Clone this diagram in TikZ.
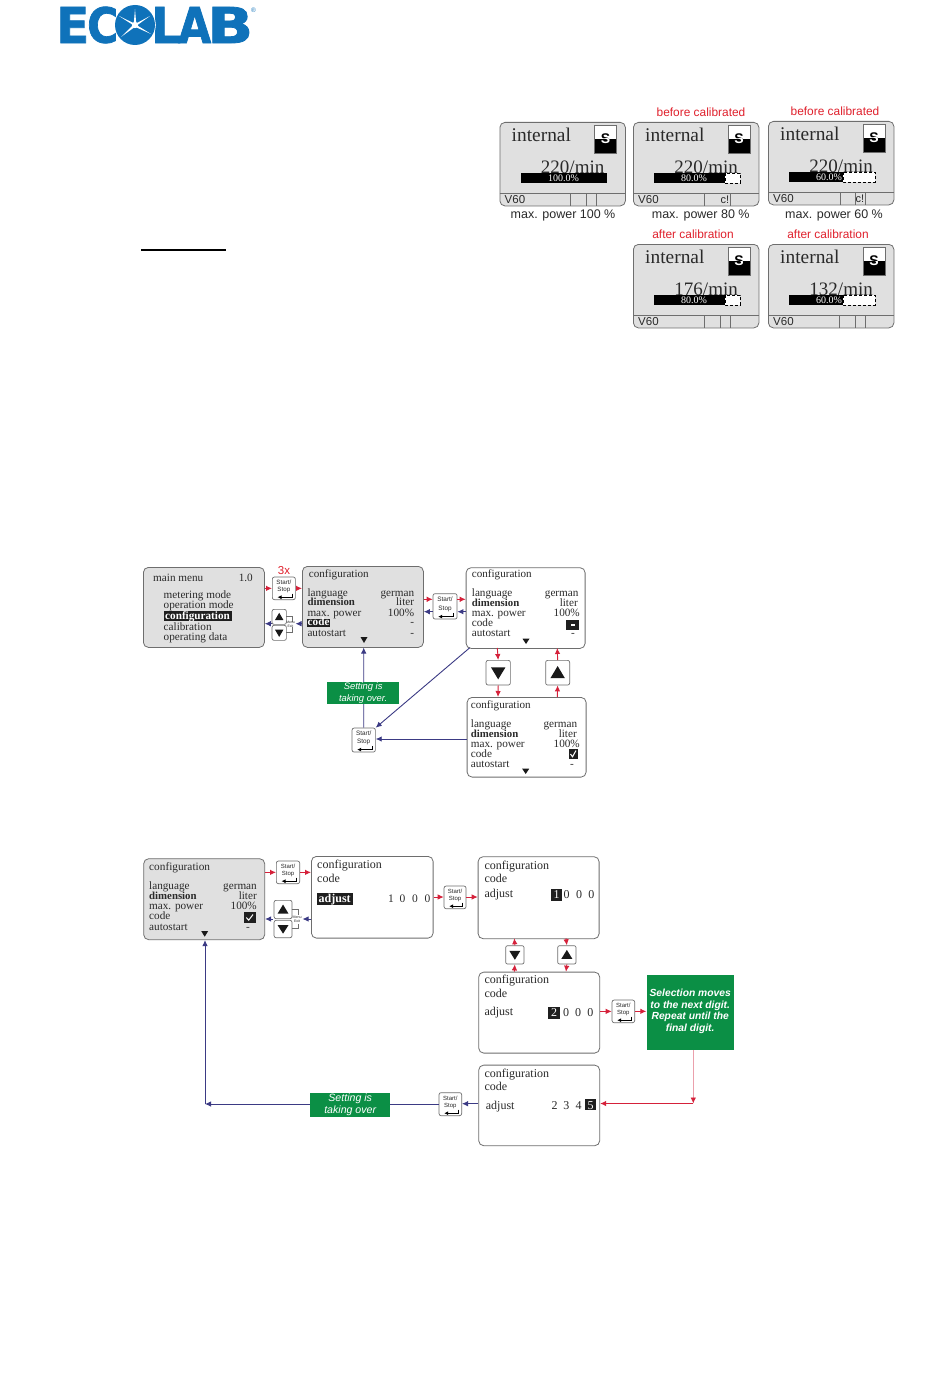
\documentclass[tikz,border=0pt]{standalone}
\usepackage{fontspec}
\setmainfont{Liberation Serif}
\setsansfont{Liberation Sans}
\newfontface\logofont[FakeBold=1.6]{DejaVu Sans Bold}
\usetikzlibrary{arrows.meta,calc}
\definecolor{scrgray}{HTML}{E0E0E0}
\definecolor{bordergray}{HTML}{6E6E6E}
\definecolor{logoblue}{HTML}{0F72BA}
\definecolor{okgreen}{HTML}{0B8F45}
\definecolor{redarrow}{HTML}{D5213A}
\definecolor{pinkline}{HTML}{EBA0AC}
\definecolor{bluearrow}{HTML}{3B3A84}
\definecolor{redlbl}{HTML}{E0202C}
\definecolor{txt}{HTML}{2A2A2A}
\tikzset{
 x=1pt,y=-1pt,
 scrbox/.style={draw=bordergray,line width=.8pt,rounded corners=5pt,inner sep=0pt,anchor=north west},
 keybox/.style={draw=bordergray,fill=white,line width=.7pt,rounded corners=2pt,inner sep=0pt,anchor=north west},
 greenbox/.style={fill=okgreen,inner sep=0pt,anchor=north west,text=white,align=center,font=\sffamily\itshape},
 redconn/.style={draw=redarrow,line width=.9pt,-{Latex[length=6pt,width=5.5pt]}},
 blueconn/.style={draw=bluearrow,line width=.9pt,-{Latex[length=6pt,width=5.5pt]}},
 scrtxt/.style={inner sep=0pt,anchor=base west,text=txt,font=\fontsize{11.2}{12}\selectfont},
 scrright/.style={inner sep=0pt,anchor=base east,text=txt,font=\fontsize{11.2}{12}\selectfont},
 scrttl/.style={inner sep=0pt,anchor=base west,text=txt,font=\fontsize{11.1}{12}\selectfont},
 bigttl/.style={scrttl,font=\fontsize{12}{13}\selectfont},
 redlabel/.style={inner sep=0pt,text=redlbl,font=\sffamily\fontsize{11.9}{12}\selectfont},
 caplabel/.style={inner sep=0pt,text=txt,font=\sffamily\fontsize{12.5}{13}\selectfont},
 navtri/.style={fill=black!90},
 logoltr/.style={inner sep=0pt,anchor=west,text=logoblue},
}
% screen box:  name, x1, y1, x2, y2, fill
\newcommand{\scr}[6]{\node[scrbox,fill=#6,minimum width=#4pt-#2pt,minimum height=#5pt-#3pt] (#1) at (#2,#3) {};}
% key box: name,x1,y1,x2,y2
\newcommand{\keyb}[5]{\node[keybox,minimum width=#4pt-#2pt,minimum height=#5pt-#3pt] (#1) at (#2,#3) {};}
% start/stop key: name,x1,y1,x2,y2,fontsize
\newcommand{\startkey}[6]{%
 \node[keybox,minimum width=#4pt-#2pt,minimum height=#5pt-#3pt] (#1) at (#2,#3) {};
 \node[inner sep=0pt,text=txt,font=\sffamily\fontsize{#6}{8}\selectfont,anchor=base] at ($(#1.north)+(0,.34*#5-.34*#3)$) {Start/};
 \node[inner sep=0pt,text=txt,font=\sffamily\fontsize{#6}{8}\selectfont,anchor=base] at ($(#1.north)+(0,.67*#5-.67*#3)$) {Stop};
 \draw[line width=.9pt,black,-{Latex[length=4pt,width=4pt]}] ($(#1.south east)+(-3.5,-6.5)$) |- ($(#1.south west)+(5.5,-2.8)$);
}
% triangle keys
\newcommand{\upkey}[5]{\keyb{#1}{#2}{#3}{#4}{#5}\fill[navtri] ($(#1.center)+(0,-.27*#5+.27*#3)$) -- ($(#1.center)+(-.3*#4+.3*#2,.22*#5-.22*#3)$) -- ($(#1.center)+(.3*#4-.3*#2,.22*#5-.22*#3)$) -- cycle;}
\newcommand{\dnkey}[5]{\keyb{#1}{#2}{#3}{#4}{#5}\fill[navtri] ($(#1.center)+(0,.27*#5-.27*#3)$) -- ($(#1.center)+(-.3*#4+.3*#2,-.22*#5+.22*#3)$) -- ($(#1.center)+(.3*#4-.3*#2,-.22*#5+.22*#3)$) -- cycle;}
% down triangle cursor: x, ytop, ybottom
\newcommand{\cursor}[3]{\fill[navtri] (#1-3.5,#2) -- (#1+3.5,#2) -- (#1,#3) -- cycle;}
% display screen: name,x,y, value, pct, bar end, status lines, extra, pct centre
\newcommand{\disp}[9]{%
 \scr{#1}{#2}{#3}{#2+125.5}{#3+83.5}{scrgray}
 \node[inner sep=0pt,anchor=base west,text=txt,font=\fontsize{19.4}{20}\selectfont] at (#2+12,#3+19.5) {internal};
 \fill[white] (#2+95,#3+3) rectangle (#2+117,#3+17);
 \fill[black] (#2+95,#3+17) rectangle (#2+117,#3+31);
 \draw[bordergray,line width=.4pt] (#2+95,#3+3) rectangle (#2+117,#3+31);
 \node[inner sep=0pt,text=black,font=\sffamily\bfseries\fontsize{14}{14}\selectfont] at (#2+106,#3+17) {S};
 \begin{scope}
 \clip (#2+95,#3+17) rectangle (#2+117,#3+31);
 \node[inner sep=0pt,text=white,font=\sffamily\bfseries\fontsize{14}{14}\selectfont] at (#2+106,#3+17) {S};
 \end{scope}
 \node[inner sep=0pt,anchor=base east,text=txt,font=\fontsize{19}{20}\selectfont] at (#2+105,#3+51) {#4};
 \fill[white] (#2+#6,#3+51) rectangle (#2+107,#3+61);
 \draw[black,densely dashed,line width=.4pt] (#2+#6,#3+51) rectangle (#2+107,#3+61);
 \fill[black] (#2+21,#3+51) rectangle (#2+#6,#3+61);
 \node[inner sep=0pt,text=white,font=\fontsize{10}{10}\selectfont] at (#2+#9,#3+56) {#5};
 \draw[bordergray,line width=.5pt] (#2,#3+71) -- (#2+125.5,#3+71);
 \foreach \v in {#7} {\draw[bordergray,line width=.5pt] (#2+\v,#3+71) -- (#2+\v,#3+83.5);}
 \node[inner sep=0pt,anchor=base west,text=txt,font=\sffamily\fontsize{11.5}{12}\selectfont] at (#2+5,#3+81.5) {V60};
 #8
}
\begin{document}
\begin{tikzpicture}
\useasboundingbox (0,0) rectangle (950,1378);
\fill[white] (0,0) rectangle (950,1378);

%% ------- logo -------
\node[logoltr] (logoE) at (56,25) {\resizebox{33pt}{36pt}{\logofont E}};
\node[logoltr] (logoC) at (87,25) {\resizebox{31pt}{36pt}{\logofont C}};
\node[logoltr] (logoL) at (151,25) {\resizebox{30pt}{36pt}{\logofont L}};
\node[logoltr] (logoA) at (178,25) {\resizebox{33pt}{36pt}{\logofont A}};
\node[logoltr] (logoB) at (207,25) {\resizebox{46pt}{36pt}{\logofont B}};
\fill[white] (135,25) circle (20.8);
\fill[logoblue] (135,25) circle (20);
\begin{scope}[shift={(135,25)}]
 \fill[white] (0,-16) -- (1.2,-1.6) -- (15,-9) -- (2,.3) -- (16,9) -- (0,1.8) -- (-14,12) -- (-2,0) -- (-16,-9) -- (-1.2,-1.8) -- cycle;
 \fill[white] (0,0) circle (3.2);
\end{scope}
\node[inner sep=0pt,text=logoblue,font=\sffamily\fontsize{6.5}{7}\selectfont] (logoR) at (253.5,10) {®};

%% ------- underline -------
\fill[black] (141,248.7) rectangle (226,250.7);

%% ------- top displays -------
\disp{sA}{499.5}{122}{220/min}{100.0\%}{107}{71,87,97}{}{64}
\disp{sB}{633}{122}{220/min}{80.0\%}{92}{71,97}{%
 \node[inner sep=0pt,anchor=base,text=txt,font=\sffamily\fontsize{11}{12}\selectfont] at (633+92,122+81.5) {c!};}{61}
\disp{sC}{768}{121}{220/min}{60.0\%}{75}{72,87,97}{%
 \node[inner sep=0pt,anchor=base,text=txt,font=\sffamily\fontsize{11}{12}\selectfont] at (768+92,121+81.5) {c!};}{61}
\disp{sD}{633}{244}{176/min}{80.0\%}{92}{71,87,97}{}{61}
\disp{sE}{768}{244}{132/min}{60.0\%}{75}{71,87,97}{}{61}

\node[caplabel] (capA) at (563,215) {max. power 100 \%};
\node[caplabel] (capB) at (700.7,215) {max. power 80 \%};
\node[caplabel] (capC) at (834,215) {max. power 60 \%};
\node[redlabel] (befB) at (701,112) {before calibrated};
\node[redlabel] (befC) at (835,111) {before calibrated};
\node[redlabel] (aftD) at (693,234.5) {after calibration};
\node[redlabel] (aftE) at (828,234) {after calibration};

%% ------- second group -------
\scr{mainm}{143}{567}{264}{647}{scrgray}
\node[scrttl,font=\fontsize{11.2}{12}\selectfont] at (153,581) {main menu};
\node[scrright] at (253,581) {1.0};
\node[scrtxt] at (163.5,598) {metering mode};
\node[scrtxt] at (163.5,608.5) {operation mode};
\fill[black!88] (163.7,610.7) rectangle (232,621.3);
\node[scrtxt,text=white,font=\bfseries\fontsize{11.2}{12}\selectfont] at (165,619) {configuration};
\node[scrtxt] at (163.5,630) {calibration};
\node[scrtxt] at (163.5,640.5) {operating data};

\scr{cfgA}{302}{566}{423}{647}{scrgray}
\node[scrttl] at (308.7,577) {configuration};
\node[scrtxt] at (307.3,596) {language};
\node[scrtxt,font=\bfseries\fontsize{10.8}{12}\selectfont] at (307.3,605.7) {dimension};
\node[scrtxt] at (307.3,616) {max. power};
\fill[black!88] (307,618.7) rectangle (330,627.3);
\node[scrtxt,text=white,font=\bfseries\fontsize{11.2}{12}\selectfont] at (307.5,625.7) {code};
\node[scrtxt] at (307.3,636) {autostart};
\node[scrright] at (414.3,596) {german};
\node[scrright] at (414.3,605.7) {liter};
\node[scrright] at (414.3,616) {100\%};
\node[scrright] at (414.3,625.7) {-};
\node[scrright] at (414.3,636) {-};
\cursor{364}{637}{643}

\startkey{kA}{272}{576.7}{295}{599.3}{6.2}
\node[inner sep=0pt,text=redlbl,font=\sffamily\fontsize{11.5}{12}\selectfont] (threex) at (284,571) {3x};
\draw[redconn] (mainm.east |- kA.west) -- (kA.west);
\draw[redconn] (kA.east) -- (cfgA.west |- kA.east);

\upkey{uA}{271.7}{609}{286}{624}
\dnkey{dA}{271.7}{625}{286}{640}
\draw[bordergray,line width=.3pt] (286,616) -| (292.5,622) (292,627) -- (292,632) -- (286,632);
\node[inner sep=0pt,text=txt,font=\sffamily\fontsize{3.4}{3.8}\selectfont,align=center] (mxA) at (290.5,624.5) {Menu\\Exit};
\coordinate (blueA) at (cfgA.west |- 0,623.7);
\coordinate (blueB) at (mainm.east |- 0,623.7);
\draw[blueconn] (blueA) -- (295.5,623.7);
\draw[blueconn] (271.5,623.7) -- (blueB);

\scr{cfgB}{465.7}{567.3}{584.7}{648}{white}
\node[scrttl] at (471.7,577.3) {configuration};
\node[scrtxt] at (471.7,596.7) {language};
\node[scrtxt,font=\bfseries\fontsize{10.8}{12}\selectfont] at (471.7,606.7) {dimension};
\node[scrtxt] at (471.7,616.7) {max. power};
\node[scrtxt] at (471.7,626.7) {code};
\node[scrtxt] at (471.7,636.7) {autostart};
\node[scrright] at (578.7,596.7) {german};
\node[scrright] at (578,606.7) {liter};
\node[scrright] at (580,616.7) {100\%};
\fill[black!88] (565.7,620) rectangle (579.3,630);
\fill[white] (570.5,624.3) rectangle (574.5,625.7);
\node[scrright] at (575,636.7) {-};
\cursor{526}{638.7}{644}

\startkey{kB}{432.7}{593.3}{456.7}{618.7}{6.4}
\coordinate (rA) at (cfgA.east |- 0,599.3);
\coordinate (rB) at (cfgB.west |- 0,599.3);
\coordinate (rC) at (cfgB.west |- 0,611.7);
\coordinate (rD) at (cfgA.east |- 0,611.7);
\coordinate (kBa) at (kB.west |- 0,599.3);
\coordinate (kBb) at (kB.east |- 0,599.3);
\coordinate (kBc) at (kB.east |- 0,611.7);
\coordinate (kBd) at (kB.west |- 0,611.7);
\draw[redconn] (rA) -- (kBa);
\draw[redconn] (kBb) -- (rB);
\draw[blueconn] (rC) -- (kBc);
\draw[blueconn] (kBd) -- (rD);

\scr{cfgC}{466.7}{697}{585.7}{776.7}{white}
\node[scrttl] at (470.7,708.3) {configuration};
\node[scrtxt] at (470.7,727.3) {language};
\node[scrtxt,font=\bfseries\fontsize{10.8}{12}\selectfont] at (470.7,737.3) {dimension};
\node[scrtxt] at (470.7,747.3) {max. power};
\node[scrtxt] at (470.7,757.3) {code};
\node[scrtxt] at (470.7,767.3) {autostart};
\node[scrright] at (577.3,727.3) {german};
\node[scrright] at (577,737.3) {liter};
\node[scrright] at (580,747.3) {100\%};
\fill[black!88] (568.7,748.7) rectangle (577.7,759.3);
\draw[white,line width=1pt] (570.5,754) -- (572.5,756.8) -- (576,750.5);
\node[scrright] at (574,767.3) {-};
\cursor{525.7}{768.7}{774}

\dnkey{dB}{485.7}{660}{510}{684.7}
\upkey{uB}{545.3}{660}{569.3}{684.7}
\draw[redconn] (497.3,648) -- (dB.north);
\draw[redconn] (dB.south) -- (498,697);
\draw[redconn] (557.3,697) -- (uB.south);
\draw[redconn] (uB.north) -- (557.3,648);

\startkey{kC}{351.7}{727.7}{375}{751.7}{6.4}
\draw[blueconn] (kC.north) -- (363.7,647.5);
\node[greenbox,minimum width=72pt,minimum height=22pt,font=\sffamily\itshape\fontsize{9.4}{11.7}\selectfont] (gA) at (327,681.7) {Setting is\\taking over.};
\draw[blueconn] (cfgB.south west)++(4,-1) -- (kC.north east);
\draw[blueconn] (cfgC.west |- 0,739) -- (kC.east |- 0,739);

%% ------- third group -------
\scr{cfgD}{143.3}{858.3}{264.3}{939.3}{scrgray}
\node[scrttl,font=\fontsize{11.3}{12}\selectfont] at (149,870.7) {configuration};
\node[scrtxt] at (149,889.3) {language};
\node[scrtxt,font=\bfseries\fontsize{10.8}{12}\selectfont] at (149,899.3) {dimension};
\node[scrtxt] at (149,909.3) {max. power};
\node[scrtxt] at (149,919.3) {code};
\node[scrtxt] at (149,930) {autostart};
\node[scrright] at (257,889.3) {german};
\node[scrright] at (257,899.3) {liter};
\node[scrright] at (257,909.3) {100\%};
\fill[black!88] (243.7,912) rectangle (255.7,922.7);
\draw[white,line width=1pt] (246.3,917.5) -- (248.7,920.2) -- (253,914.5);
\node[scrright] at (250,930) {-};
\cursor{204.7}{931}{936.7}

\scr{cfgE}{311}{856}{432.7}{937.7}{white}
\node[bigttl] at (317,868.3) {configuration};
\node[bigttl] at (317,882.3) {code};
\fill[black!88] (317,892.7) rectangle (353,905.3);
\node[scrttl,text=white,font=\bfseries\fontsize{12}{13}\selectfont] at (318.5,902) {adjust};
\foreach \dx/\dg in {391/1,402.5/0,415/0,427.5/0} {\node[inner sep=0pt,anchor=base,text=txt,font=\fontsize{11.5}{12}\selectfont] at (\dx,902) {\dg};}

\startkey{kD}{276}{860.7}{299.3}{883.3}{6}
\draw[redconn] (cfgD.east |- kD.west) -- (kD.west);
\draw[redconn] (kD.east) -- (cfgE.west |- kD.east);

\upkey{uC}{273.7}{900}{291.7}{918.3}
\dnkey{dC}{273.7}{920}{291.7}{937.3}
\draw[bordergray,line width=.3pt] (291.7,909) -| (298,915) (298,924) -- (298,928) -- (291.7,928);
\node[inner sep=0pt,text=txt,font=\sffamily\fontsize{3.6}{4}\selectfont,align=center] (mxC) at (297,919) {Menu\\Exit};
\coordinate (cA) at (cfgE.west |- 0,919);
\coordinate (cB) at (cfgD.east |- 0,919);
\draw[blueconn] (cA) -- (302.5,919);
\draw[blueconn] (273,919) -- (cB);

\scr{cfgF}{477.7}{856.3}{598.7}{938.3}{white}
\node[bigttl] at (484.3,869) {configuration};
\node[bigttl] at (484.3,882.7) {code};
\node[bigttl] at (484.3,897.7) {adjust};
\fill[black!88] (551,888.7) rectangle (562.3,900.7);
\foreach \dx/\dg/\dc in {556.6/1/white,566.7/0/txt,579/0/txt,591.3/0/txt} {\node[inner sep=0pt,anchor=base,text=\dc,font=\fontsize{12}{13}\selectfont] at (\dx,898.5) {\dg};}

\startkey{kE}{443.7}{885.7}{465.7}{908.3}{6}
\coordinate (eA) at (cfgE.east |- 0,897);
\coordinate (eB) at (kE.west |- 0,897);
\coordinate (eC) at (kE.east |- 0,897);
\coordinate (eD) at (cfgF.west |- 0,897);
\draw[redconn] (eA) -- (eB);
\draw[redconn] (eC) -- (eD);

\scr{cfgG}{478.3}{971.7}{599.3}{1052.7}{white}
\node[bigttl] at (484.3,983.3) {configuration};
\node[bigttl] at (484.3,997.3) {code};
\node[bigttl] at (484.3,1015.7) {adjust};
\fill[black!88] (548.3,1007.3) rectangle (559.7,1018.7);
\foreach \dx/\dg/\dc in {554/2/white,566/0/txt,578/0/txt,590.3/0/txt} {\node[inner sep=0pt,anchor=base,text=\dc,font=\fontsize{12}{13}\selectfont] at (\dx,1016.7) {\dg};}

\dnkey{dD}{505.3}{945.3}{523.7}{963.7}
\upkey{uD}{557.3}{945.3}{575.7}{963.7}
\draw[redconn] (514.3,971.7) -- (dD.south);
\draw[redconn] (dD.north) -- (514.3,938.3);
\draw[redconn] (566,938.3) -- (uD.north);
\draw[redconn] (uD.south) -- (566,971.7);

\startkey{kF}{611.7}{999.7}{634.3}{1022.3}{6}
\node[greenbox,minimum width=87.4pt,minimum height=75.4pt,font=\sffamily\bfseries\itshape\fontsize{10.3}{11.7}\selectfont] (gB) at (646.3,974.3) {Selection moves\\to the next digit.\\Repeat until the\\final digit.\\[-8pt]\mbox{}};
\draw[redconn] (cfgG.east |- kF.west) -- (kF.west);
\draw[redconn] (kF.east) -- (gB.west |- kF.east);

\scr{cfgH}{478.3}{1064.7}{599.3}{1145.3}{white}
\node[bigttl] at (484.3,1077.3) {configuration};
\node[bigttl] at (484.3,1090.7) {code};
\node[bigttl] at (485.7,1109.3) {adjust};
\foreach \dx/\dg in {554.7/2,566.3/3,578.7/4} {\node[inner sep=0pt,anchor=base,text=txt,font=\fontsize{12}{13}\selectfont] at (\dx,1109.3) {\dg};}
\fill[black!88] (585,1099) rectangle (596,1110.3);
\node[inner sep=0pt,anchor=base,text=white,font=\fontsize{12}{13}\selectfont] at (590.5,1109.3) {5};

\startkey{kG}{438.7}{1092.3}{461.3}{1115.3}{6}
\coordinate (turnR) at (693.3,1103.5);
\draw[draw=pinkline,line width=.9pt,-{Latex[length=6pt,width=5.5pt,color=redarrow]}] (gB.south -| turnR) -- (turnR);
\draw[redconn,line width=1.1pt] (turnR) -- (cfgH.east |- turnR);
\draw[blueconn] (cfgH.west |- 0,1103.7) -- (kG.east |- 0,1103.7);

\coordinate (turnB) at (205,1104);
\draw[blueconn] (kG.west |- turnB) -- (turnB);
\draw[blueconn] (turnB) -- (cfgD.south -| turnB);
\node[greenbox,minimum width=80pt,minimum height=24.4pt,font=\sffamily\itshape\fontsize{10.6}{12}\selectfont] (gC) at (310,1092.3) {Setting is\\taking over};
\end{tikzpicture}
\end{document}
